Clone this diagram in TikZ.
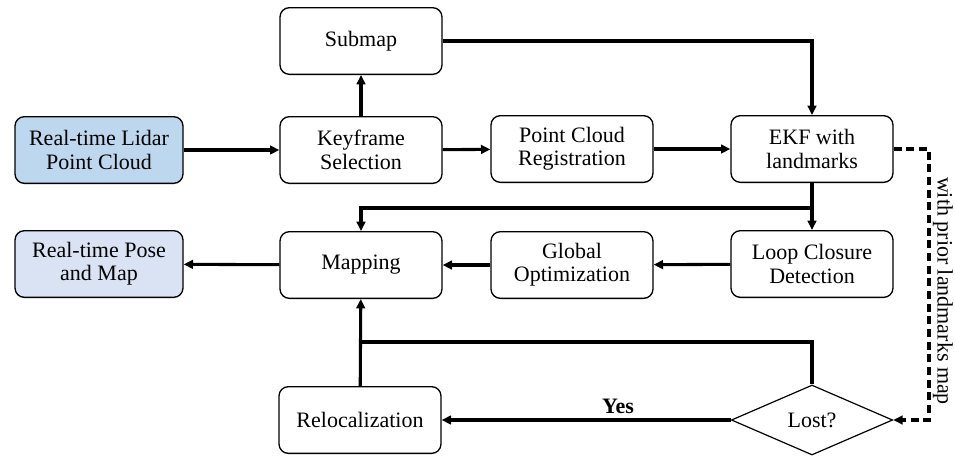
\documentclass[tikz,border=0pt]{standalone}
\usepackage{fontspec}
\setmainfont{Liberation Serif}
\usetikzlibrary{arrows.meta}
\usetikzlibrary{shapes.geometric}
\definecolor{lidarblue}{RGB}{189,215,238}
\definecolor{poseblue}{RGB}{218,227,243}

\begin{document}
\begin{tikzpicture}[x=0.75pt, y=-0.75pt,
    every node/.style={font=\rmfamily\fontsize{16.5}{17.5}\selectfont, align=center},
    box/.style={rectangle, rounded corners=7pt, draw, line width=1pt, minimum width=121.5pt, minimum height=50pt, inner sep=2pt},
    iobox/.style={box, minimum width=126pt},
    decision/.style={diamond, draw, line width=0.9pt, minimum width=121pt, minimum height=52.5pt, inner sep=0pt},
    flow/.style={line width=2.3pt, -{Triangle[length=7pt, width=6.5pt]}},
    plain/.style={line width=2.3pt},
    prior/.style={line width=2.3pt, dash pattern=on 6pt off 3.5pt, -{Triangle[length=7pt, width=6.5pt]}}]
    \useasboundingbox (0,0) rectangle (955,455);

    \node[iobox, fill=lidarblue] (lidar) at (99,150) {Real-time Lidar\\Point Cloud};
    \node[iobox, fill=poseblue] (pose) at (99,264) {Real-time Pose\\and Map};
    \node[box] (submap) at (361,41) {Submap};
    \node[box] (key) at (361,150) {Keyframe\\Selection};
    \node[box] (pcr) at (572,149) {Point Cloud\\Registration};
    \node[box] (ekf) at (812,149) {EKF with\\landmarks};
    \node[box] (map) at (361,265) {Mapping};
    \node[box] (glob) at (572,265) {Global\\Optimization};
    \node[box] (loop) at (812,264) {Loop Closure\\Detection};
    \node[box] (reloc) at (360,420) {Relocalization};
    \node[decision] (lost) at (812,420) {Lost?};

    \coordinate (branch) at (812,208);
    \coordinate (join) at (361,342);
    \coordinate (bend) at (929,149);

    \draw[flow] (lidar) -- (key);
    \draw[flow] (key) -- (submap);
    \draw[flow] (submap.east) -| (ekf.north);
    \draw[flow] (key) -- (pcr);
    \draw[flow] (pcr) -- (ekf);
    \draw[flow] (ekf) -- (loop);
    \draw[flow] (branch) -| (map.north);
    \draw[flow] (loop) -- (glob);
    \draw[flow] (glob) -- (map);
    \draw[flow] (map) -- (pose);
    \draw[flow] (reloc) -- (map);
    \draw[plain] (lost.north) |- (join);
    \draw[flow] (lost) -- node[above, pos=0.39, font=\rmfamily\fontsize{16.5}{17.5}\selectfont\bfseries] (yes) {Yes} (reloc);
    \draw[prior] (ekf.east) -- (bend) |- (lost.east);
    \node[rotate=-90] (priorlabel) at (943,291) {with prior landmarks map};
  \end{tikzpicture}
\end{document}
